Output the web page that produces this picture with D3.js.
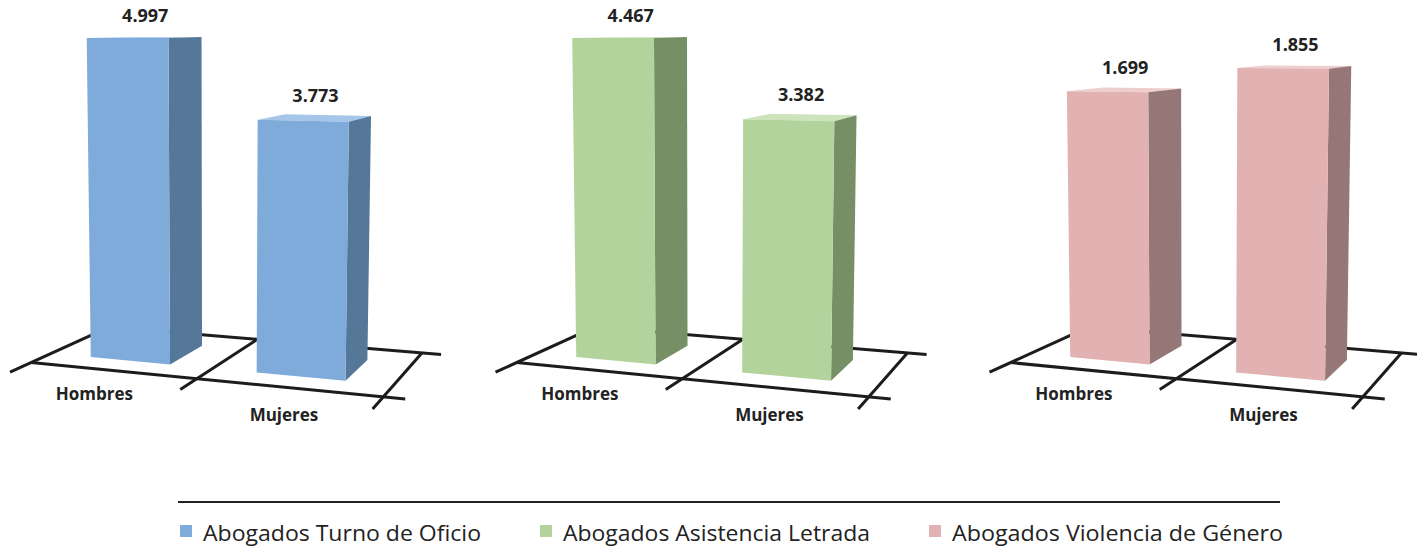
<!DOCTYPE html>
<html><head><meta charset="utf-8">
<script src="https://cdn.jsdelivr.net/npm/d3@7"></script>
<style>body{margin:0;background:#fff} svg{display:block}</style>
</head><body>
<svg id="chart" width="1417" height="547"></svg>
<script>
// ---------- data ----------
const categories = ["Hombres", "Mujeres"];
const seriesNames = ["Abogados Turno de Oficio", "Abogados Asistencia Letrada", "Abogados Violencia de Género"];
const turnoOficio = [4997, 3773];
const asistenciaLetrada = [4467, 3382];
const violenciaGenero = [1699, 1855];
const valueAxisMax = [5000, 4470, 2040];

// ---------- styles ----------
const frontColors = ["#7EABDA", "#B3D39C", "#E2B1B1"];
const sideColors  = ["#557899", "#768F65", "#957778"];
const topColors   = ["#A6C6E9", "#CDE3BC", "#EECDCD"];

// ---------- layout ----------
const panelX = [0, 485.5, 979.5];
const floorFL = [31.1, 362.6], floorFR = [383.3, 396.9], floorBR = [421.9, 352.9], floorBL = [109, 327.1];
const vanishV = [218, 10400];
const fullHeight = 324.3;
const depthExp = 0.85;
const barDepth = [0.237, 0.725];

const series = [turnoOficio, asistenciaLetrada, violenciaGenero];
const esLocale = d3.formatLocale({decimal: ",", thousands: ".", grouping: [3], currency: ["", " €"]});
const fmt = esLocale.format(",d");

function makeHomography(p0, p1, p2, p3) {
  const [x0, y0] = p0, [x1, y1] = p1, [x2, y2] = p2, [x3, y3] = p3;
  const dx1 = x1 - x2, dx2 = x3 - x2, dx3 = x0 - x1 + x2 - x3;
  const dy1 = y1 - y2, dy2 = y3 - y2, dy3 = y0 - y1 + y2 - y3;
  const den = dx1 * dy2 - dx2 * dy1;
  const g = (dx3 * dy2 - dx2 * dy3) / den, h = (dx1 * dy3 - dx3 * dy1) / den;
  const a = x1 - x0 + g * x1, b = x3 - x0 + h * x3, c = x0;
  const d = y1 - y0 + g * y1, e = y3 - y0 + h * y3, f = y0;
  return (u, v) => { const w = g * u + h * v + 1; return {x: (a * u + b * v + c) / w, y: (d * u + e * v + f) / w, w}; };
}
const H = makeHomography(floorFL, floorFR, floorBR, floorBL);
function project(u, v, hh) {
  const p = H(u, v);
  const len = hh / Math.pow(p.w, depthExp);
  const dx = p.x - vanishV[0], dy = p.y - vanishV[1];
  const n = Math.hypot(dx, dy);
  return [p.x + dx / n * len, p.y + dy / n * len];
}

const svg = d3.select("#chart");
const xBand = d3.scaleBand().domain(categories).range([0, 1]).paddingInner(0.508).paddingOuter(0.254);
const line = d3.line();

series.forEach((vals, i) => {
  const yScale = d3.scaleLinear().domain([0, valueAxisMax[i]]).range([0, fullHeight]);
  const g = svg.append("g").attr("transform", `translate(${panelX[i]},0)`);

  // floor grid
  const floor = g.append("g").attr("stroke", "#1c1c1c").attr("stroke-width", 3).attr("fill", "none");
  const bounds = d3.range(categories.length + 1).map(k => k / categories.length);
  bounds.forEach(u => {
    floor.append("path").attr("d", line([project(u, -0.23, 0), project(u, 1, 0)]));
  });
  [0, 1].forEach(v => {
    floor.append("path").attr("d", line([project(0, v, 0), project(1.055, v, 0)]));
  });

  // bars
  categories.forEach((cat, j) => {
    const u0 = xBand(cat), u1 = u0 + xBand.bandwidth();
    const [v0, v1] = barDepth;
    const hh = yScale(vals[j]);
    const poly = pts => "M" + pts.map(p => p.join(",")).join("L") + "Z";
    const bar = g.append("g");
    bar.append("path").attr("d", poly([project(u0, v0, hh), project(u1, v0, hh), project(u1, v1, hh), project(u0, v1, hh)]))
      .attr("fill", topColors[i]);
    bar.append("path").attr("d", poly([project(u1, v0, 0), project(u1, v1, 0), project(u1, v1, hh), project(u1, v0, hh)]))
      .attr("fill", sideColors[i]);
    bar.append("path").attr("d", poly([project(u0, v0, 0), project(u1, v0, 0), project(u1, v0, hh), project(u0, v0, hh)]))
      .attr("fill", frontColors[i]);

    const c = project((u0 + u1) / 2, (v0 + v1) / 2, hh);
    g.append("text").attr("x", c[0]).attr("y", c[1] - 16)
      .attr("text-anchor", "middle").attr("font-family", "'Open Sans', sans-serif")
      .attr("font-weight", 700).attr("font-size", 18).attr("fill", "#222")
      .text(fmt(vals[j]));

    const base = project((u0 + u1) / 2 + 0.065, -0.47, 0);
    g.append("text").attr("x", base[0]).attr("y", base[1] + 6)
      .attr("text-anchor", "middle").attr("font-family", "'Open Sans', sans-serif")
      .attr("font-weight", 700).attr("font-size", 17).attr("fill", "#222")
      .text(cat);
  });
});

// legend
svg.append("line").attr("x1", 178).attr("x2", 1280).attr("y1", 502).attr("y2", 502)
  .attr("stroke", "#222").attr("stroke-width", 2);
const legendX = [180, 540, 929];
const legendW = [278, 307, 331];
seriesNames.forEach((name, i) => {
  svg.append("rect").attr("x", legendX[i]).attr("y", 525).attr("width", 12).attr("height", 12)
    .attr("fill", frontColors[i]);
  svg.append("text").attr("x", legendX[i] + 23).attr("y", 541)
    .attr("font-family", "'Open Sans', sans-serif").attr("font-size", 21).attr("fill", "#222")
    .attr("textLength", legendW[i]).attr("lengthAdjust", "spacingAndGlyphs")
    .text(name);
});
</script>
</body></html>
